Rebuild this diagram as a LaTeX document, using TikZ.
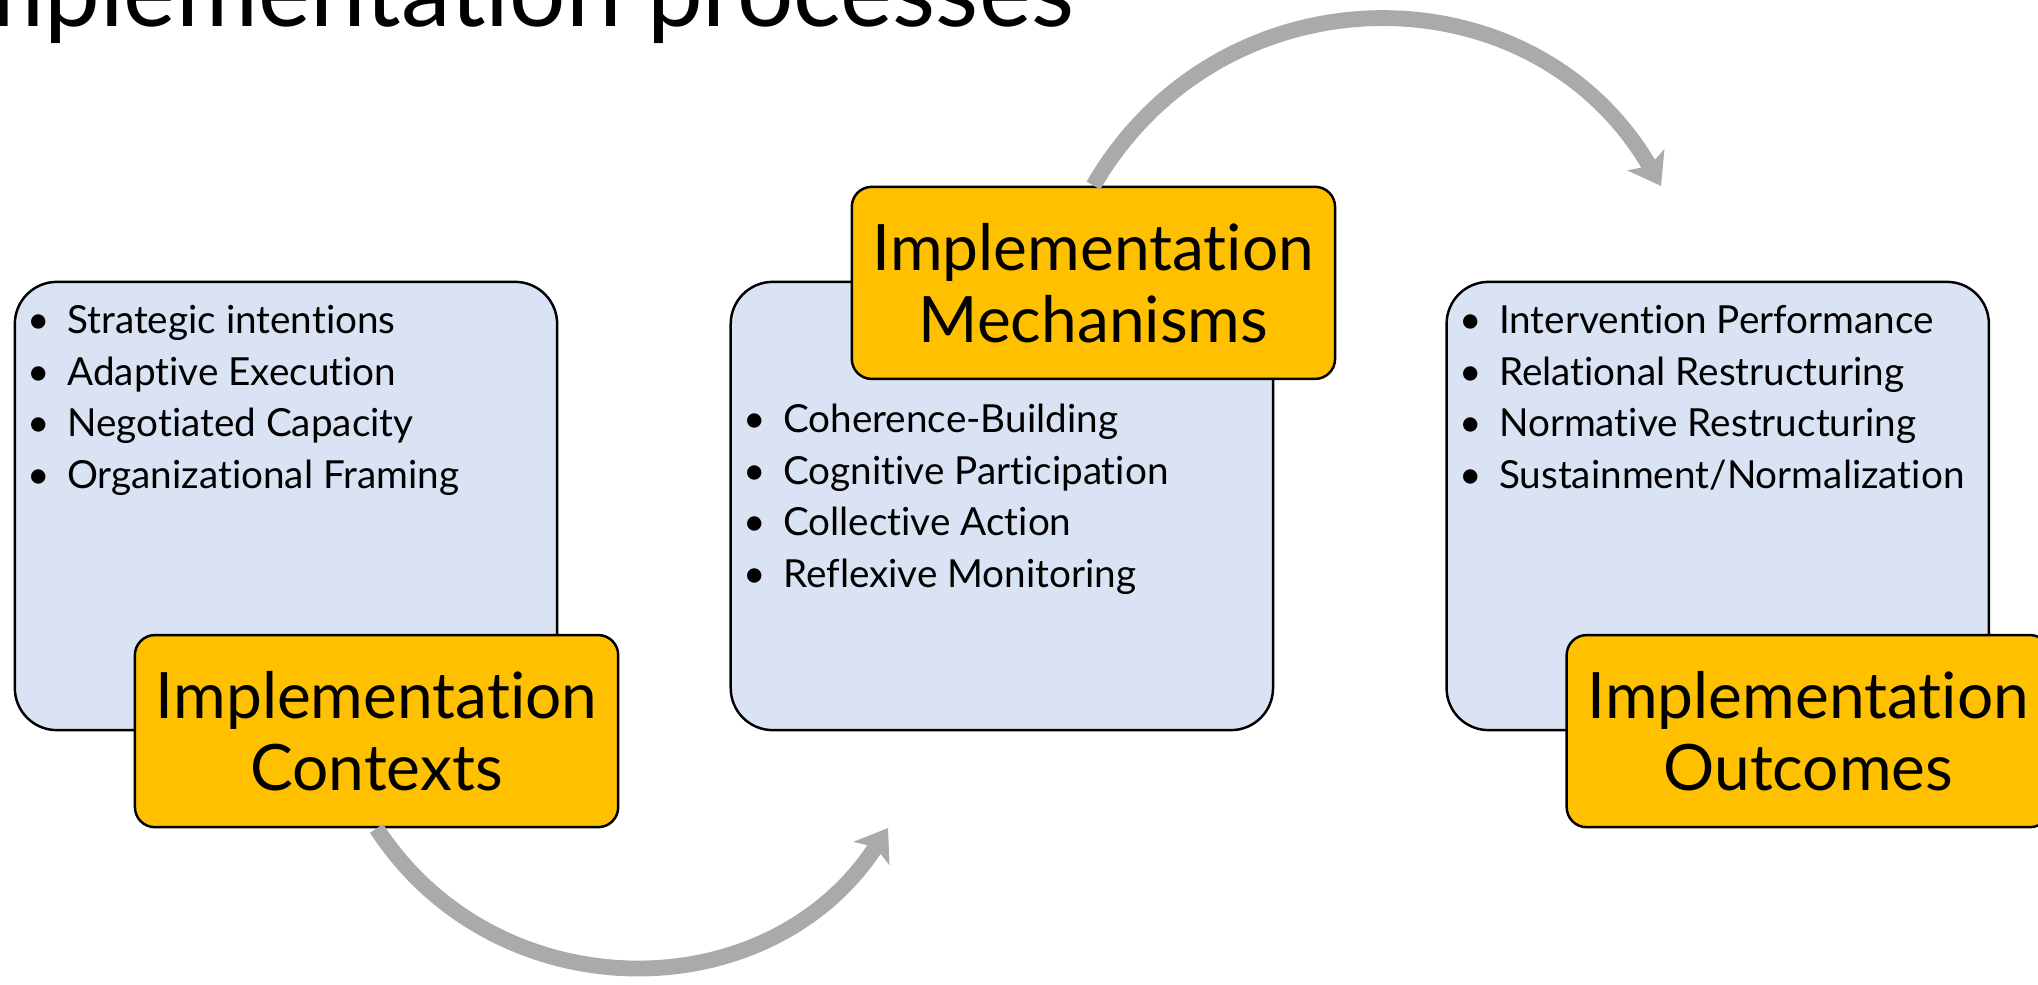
\documentclass[tikz,border=0pt]{standalone}
\usepackage{fontspec}
\setmainfont{Lato}[Ligatures={NoCommon,NoRare,NoContextual}]
\usepackage{tikz}
\usetikzlibrary{positioning,arrows.meta}

\definecolor{boxblue}{HTML}{DAE3F3}
\definecolor{labelgold}{HTML}{FFC000}
\definecolor{arrowgray}{HTML}{AAAAAA}

\begin{document}
\begin{tikzpicture}[
    x=0.01cm, y=0.01cm,
    node distance=0.5cm and 1.71cm,
    box_style/.style={draw=black, line width=0.7pt, fill=boxblue, rounded corners=0.42cm, minimum width=5.42cm, minimum height=4.48cm, inner sep=0pt},
    label_style/.style={draw=black, line width=0.7pt, fill=labelgold, rounded corners=0.2cm, minimum width=4.83cm, minimum height=1.92cm, inner sep=0pt, align=center, font=\fontsize{18.2}{20.5}\selectfont},
    item_style/.style={anchor=base west, inner sep=0pt, font=\fontsize{11}{13}\selectfont},
    title_style/.style={anchor=base east, inner sep=0pt, font=\fontsize{28.3}{34}\selectfont},
    flow_arrow/.style={draw=arrowgray, line width=4.5pt, -{Stealth[length=0.3cm, width=0.42cm, inset=0.07cm]}}
]

\useasboundingbox (0,0) rectangle (2038,984);
\clip (0,0) rectangle (2038,984);

% Title
\node[title_style] (title) at (1075,957) {Implementation processes};

% Blue boxes
\node[box_style] (B1) at (286,478) {};
\node[box_style, right=of B1] (B2) {};
\node[box_style, right=of B2] (B3) {};

% Bullet lists
\foreach \t [count=\i] in {Strategic intentions, Adaptive Execution, Negotiated Capacity, Organizational Framing}
  \node[item_style] (B1i\i) at ([xshift=0.13cm, yshift={-0.53cm-(\i-1)*0.515cm}]B1.north west) {\makebox[0.4cm][l]{\textbullet}\t};
\foreach \t [count=\i] in {Coherence-Building, Cognitive Participation, Collective Action, Reflexive Monitoring}
  \node[item_style] (B2i\i) at ([xshift=0.13cm, yshift={-1.52cm-(\i-1)*0.515cm}]B2.north west) {\makebox[0.4cm][l]{\textbullet}\t};
\foreach \t [count=\i] in {Intervention Performance, Relational Restructuring, Normative Restructuring, Sustainment/Normalization}
  \node[item_style] (B3i\i) at ([xshift=0.13cm, yshift={-0.53cm-(\i-1)*0.515cm}]B3.north west) {\makebox[0.4cm][l]{\textbullet}\t};

% Gold labels
\node[label_style, anchor=south west] (L1) at ([xshift=1.2cm, yshift=-0.97cm]B1.south west) {Implementation\\Contexts};
\node[label_style, anchor=north west] (L2) at ([xshift=1.21cm, yshift=0.95cm]B2.north west) {Implementation\\Mechanisms};
\node[label_style, anchor=south west] (L3) at ([xshift=1.2cm, yshift=-0.97cm]B3.south west) {Implementation\\Outcomes};

% Curved arrows
\coordinate (c1) at (888,156);
\coordinate (c2) at (1661,798);
\draw[flow_arrow] (L1.south) to[bend right=57, looseness=1.1] (c1);
\draw[flow_arrow] (L2.north) to[bend left=60, looseness=1.15] (c2);

\end{tikzpicture}
\end{document}
